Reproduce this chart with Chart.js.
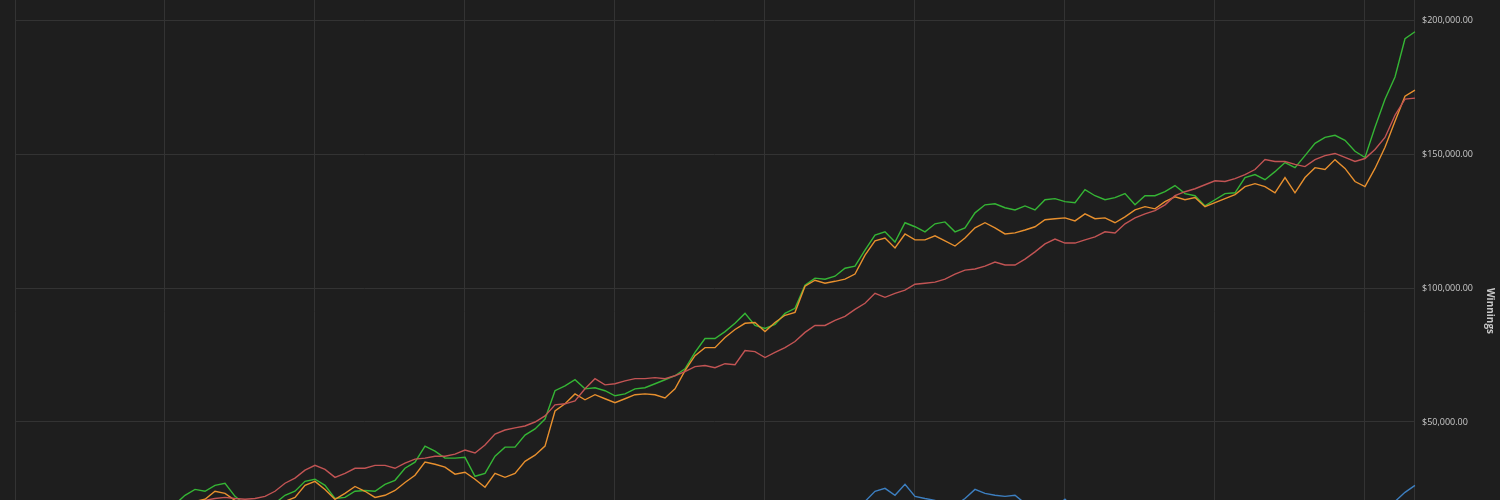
<!DOCTYPE html>
<html lang="en">
<head>
    <meta charset="UTF-8">
    <title>Winnings</title>
    <script src="https://cdn.jsdelivr.net/npm/chart.js"></script>
    <style>
        html, body { margin: 0; padding: 0; background: #1e1e1e; overflow: hidden; }
        #chartContainer { position: relative; width: 1500px; height: 648px; margin-top: -13px; }
    </style>
</head>
<body>
    <div id="chartContainer">
        <canvas id="winningsChart"></canvas>
    </div>

    <script>
        // one label per sampled session
        const sessions = Array.from({ length: 141 }, (_, i) => i + 1);

        const greenWinnings = [
            0, 1500, 3000, 2300, 5300, 6800, 6000, 9000, 10500, 9800,
            12800, 12000, 14700, 15800, 15000, 17300, 19200, 22600, 24800, 24100,
            26300, 27100, 22200, 19200, 17300, 18000, 19600, 22600, 24100, 27800,
            28600, 26300, 21400, 21800, 24100, 24400, 24100, 26700, 28200, 32700,
            35000, 41000, 39100, 36500, 36500, 36800, 29700, 30800, 37200, 40600,
            40600, 45100, 47400, 51100, 61700, 63500, 65800, 62400, 62800, 61700,
            59800, 60500, 62400, 62800, 64300, 65800, 67300, 69900, 76000, 81200,
            81200, 83800, 86900, 90600, 86100, 85000, 86500, 90600, 92500, 101100,
            103800, 103400, 104500, 107500, 108300, 114300, 119900, 121100, 117300, 124500,
            123000, 121100, 124100, 124800, 121100, 122600, 128200, 131200, 131600, 130100,
            129300, 130800, 129300, 133100, 133500, 132400, 132000, 136900, 134600, 133100,
            133900, 135400, 131200, 134600, 134600, 136100, 138400, 135400, 134600, 130800,
            133100, 135400, 135700, 141400, 142500, 140600, 143600, 147000, 145100, 149600,
            154200, 156400, 157200, 155300, 151200, 148900, 160200, 170700, 179000, 193300,
            195900
        ];

        const orangeWinnings = [
            0, 800, 1900, 1100, 3400, 4900, 4100, 6800, 8300, 7500,
            10200, 9800, 12000, 13500, 12800, 15400, 17300, 19200, 20300, 21100,
            24100, 23300, 20700, 18000, 16500, 17300, 18400, 20300, 21800, 26300,
            27800, 24800, 21100, 23300, 25900, 24100, 21800, 22600, 24400, 27400,
            30100, 35000, 34200, 33100, 30500, 31200, 28600, 25600, 30800, 29300,
            30800, 35300, 37600, 41000, 54100, 56800, 60500, 58300, 60200, 58700,
            57200, 58700, 60200, 60500, 60200, 59000, 62400, 69200, 74800, 77800,
            77800, 81600, 84600, 86900, 87200, 83800, 87200, 89900, 91000, 100800,
            103000, 101900, 102600, 103400, 105300, 112400, 117700, 118800, 115100, 120300,
            118100, 118100, 119600, 117700, 115800, 118800, 122600, 124500, 122600, 120300,
            120700, 121800, 123000, 125600, 126000, 126300, 125200, 127800, 126000, 126300,
            124500, 126700, 129300, 130500, 129700, 132400, 134200, 133100, 133900, 130500,
            132000, 133500, 135000, 138000, 139100, 138000, 135700, 141400, 135700, 141400,
            145100, 144400, 148100, 144800, 139900, 138000, 144800, 152700, 162400, 171800,
            174100
        ];

        const redWinnings = [
            0, 400, 1500, 1100, 2600, 3400, 3000, 4900, 6000, 5600,
            7100, 7900, 9000, 9800, 10200, 11700, 12800, 14300, 16500, 20700,
            21400, 21800, 21400, 21100, 21400, 22200, 24100, 27100, 29000, 32000,
            33800, 32300, 29300, 30800, 32700, 32700, 33800, 33800, 32700, 34600,
            36100, 36500, 37200, 37200, 38000, 39500, 38400, 41400, 45500, 47000,
            47800, 48500, 50000, 52300, 56400, 56800, 57900, 62400, 66200, 63900,
            64300, 65400, 66200, 66200, 66600, 66200, 67300, 68800, 70700, 71100,
            70300, 71800, 71400, 76700, 76300, 74100, 76000, 77800, 80100, 83500,
            86100, 86100, 88000, 89500, 92100, 94400, 98100, 96600, 98100, 99300,
            101500, 101900, 102300, 103400, 105300, 106800, 107200, 108300, 109800, 108700,
            108700, 110900, 113600, 116600, 118400, 116900, 116900, 118100, 119200, 121100,
            120700, 124100, 126300, 127800, 129000, 131200, 134600, 136100, 137200, 138700,
            140200, 139900, 141000, 142500, 144400, 148100, 147400, 147400, 146300, 145500,
            148100, 149600, 150400, 148900, 147400, 148500, 151900, 156400, 164700, 170700,
            171100
        ];

        const blueWinnings = [
            0, 800, -800, 400, 1500, 800, 2300, 3400, 2600, 4100,
            5300, 4500, 6000, 7100, 6400, 7900, 9000, 8300, 9800, 10900,
            10200, 11700, 12800, 12000, 13500, 14300, 13200, 14700, 15800, 14700,
            16200, 15000, 16500, 15400, 16900, 15800, 17300, 16200, 15000, 16500,
            15400, 13900, 15000, 13500, 12400, 13500, 12000, 13200, 11300, 10200,
            11300, 9800, 8600, 9800, 10900, 9400, 10500, 9000, 10200, 11700,
            10500, 12400, 13500, 12400, 13900, 12800, 14300, 13200, 15000, 13900,
            15400, 14300, 15800, 14700, 16200, 15000, 16500, 15800, 17300, 16200,
            17700, 16500, 18000, 16900, 18800, 20300, 24100, 25200, 22600, 26700,
            22200, 21400, 20700, 19200, 18800, 21400, 24800, 23300, 22600, 22200,
            22600, 19600, 17300, 15800, 18000, 21100, 17300, 19200, 17700, 15800,
            14700, 16200, 14300, 13200, 14700, 13500, 12000, 13200, 11300, 12400,
            10900, 12000, 10500, 11700, 12800, 11300, 12400, 13500, 12400, 13900,
            12800, 14300, 13200, 14700, 15800, 15000, 16500, 17700, 20300, 23700,
            26300
        ];

        const yTicks = [0, 50000, 100000, 150000, 200000];

        const gridColor = '#333333';
        const labelColor = '#c8c8c8';

        function makeSeries(label, data, color) {
            return {
                label: label,
                data: data,
                borderColor: color,
                backgroundColor: color,
                borderWidth: 1.4,
                pointRadius: 0,
                tension: 0
            };
        }

        const ctx = document.getElementById('winningsChart').getContext('2d');

        new Chart(ctx, {
            type: 'line',
            data: {
                labels: sessions,
                datasets: [
                    makeSeries('Blue', blueWinnings, '#3d7fc0'),
                    makeSeries('Red', redWinnings, '#c25454'),
                    makeSeries('Orange', orangeWinnings, '#e8902e'),
                    makeSeries('Green', greenWinnings, '#35b535')
                ]
            },
            options: {
                responsive: true,
                maintainAspectRatio: false,
                animation: false,
                layout: {
                    padding: { left: 15, right: 0, top: 0, bottom: 0 }
                },
                plugins: {
                    legend: { display: false },
                    tooltip: { enabled: false }
                },
                scales: {
                    x: {
                        ticks: { display: false },
                        border: { display: false },
                        grid: {
                            drawTicks: false,
                            color: c => (c.index % 15 === 0 ? gridColor : 'transparent')
                        }
                    },
                    y: {
                        position: 'right',
                        min: -25000,
                        max: 208000,
                        afterBuildTicks: axis => {
                            axis.ticks = yTicks.map(v => ({ value: v }));
                        },
                        border: { display: true, color: gridColor },
                        grid: { color: gridColor, drawTicks: false },
                        ticks: {
                            padding: 7,
                            color: labelColor,
                            font: { family: 'Open Sans', size: 9 },
                            callback: v => '$' + Number(v).toLocaleString('en-US', { minimumFractionDigits: 2, maximumFractionDigits: 2 })
                        },
                        title: {
                            display: true,
                            text: 'Winnings',
                            color: labelColor,
                            font: { family: 'Open Sans', size: 10, weight: 'bold' }
                        }
                    }
                }
            }
        });
    </script>
</body>
</html>
